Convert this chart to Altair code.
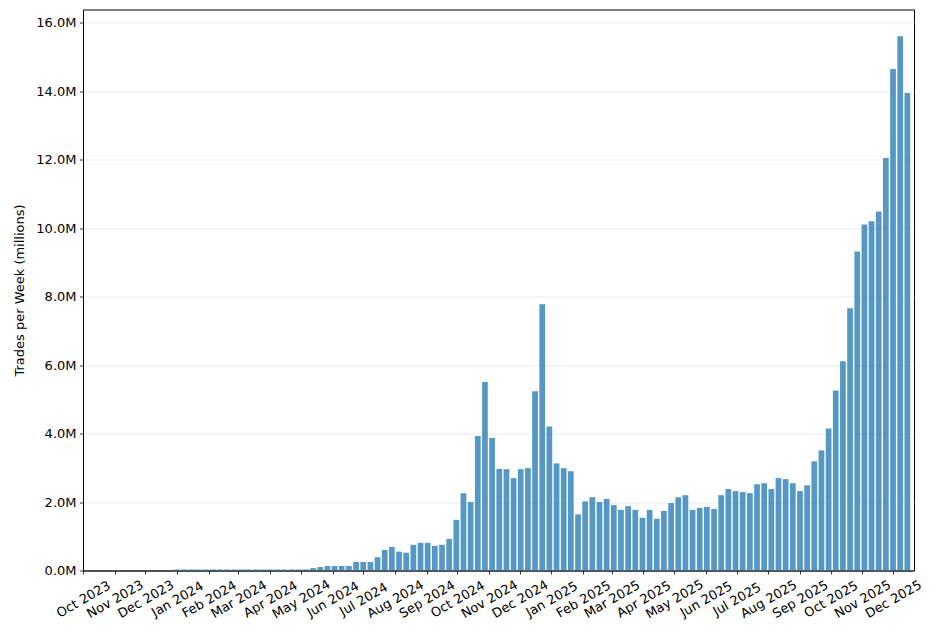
import altair as alt
import pandas as pd

# Weekly trade counts (millions), weeks starting Monday 2024-01-01
first_week = "2024-01-01"
trades_millions = [
    0.03, 0.03, 0.03, 0.03, 0.03, 0.03, 0.03, 0.03, 0.03, 0.03,
    0.03, 0.03, 0.03, 0.03, 0.03, 0.03, 0.03, 0.03, 0.03, 0.07,
    0.10, 0.13, 0.13, 0.13, 0.13, 0.25, 0.25, 0.25, 0.39, 0.60,
    0.69, 0.55, 0.52, 0.75, 0.81, 0.81, 0.72, 0.75, 0.92, 1.48,
    2.26, 2.00, 3.93, 5.51, 3.87, 2.97, 2.96, 2.70, 2.96, 2.99,
    5.24, 7.78, 4.21, 3.13, 2.99, 2.90, 1.64, 2.02, 2.14, 2.00,
    2.09, 1.91, 1.77, 1.88, 1.77, 1.54, 1.77, 1.51, 1.74, 1.97,
    2.14, 2.20, 1.77, 1.83, 1.86, 1.80, 2.20, 2.38, 2.32, 2.29,
    2.26, 2.52, 2.55, 2.38, 2.70, 2.67, 2.55, 2.32, 2.49, 3.19,
    3.51, 4.15, 5.26, 6.11, 7.66, 9.32, 10.11, 10.20, 10.49, 12.05,
    14.65, 15.61, 13.95,
]
tick_months = [(2023, m) for m in (10, 11, 12)] + \
              [(2024, m) for m in range(1, 13)] + \
              [(2025, m) for m in range(1, 13)]
y_ticks = [0, 2, 4, 6, 8, 10, 12, 14, 16]

weeks = pd.date_range(first_week, periods=len(trades_millions), freq="7D")
half = pd.Timedelta(days=2.8)
df = pd.DataFrame({
    "week": weeks,
    "start": weeks - half,
    "end": weeks + half,
    "trades": trades_millions,
})

font = "DejaVu Sans"

bars = alt.Chart(df).mark_bar(color="#1f77b4", opacity=0.76).encode(
    x=alt.X(
        "start:T",
        scale=alt.Scale(domain=[
            alt.DateTime(year=2023, month=10, date=1),
            alt.DateTime(year=2025, month=12, date=21, hours=12),
        ]),
        axis=alt.Axis(
            values=[alt.DateTime(year=y, month=m, date=1) for y, m in tick_months],
            format="%b %Y",
            formatType="time",
            labelAngle=-30,
            labelAlign="center",
            labelBaseline="middle",
            labelPadding=25,
            labelOverlap=False,
            labelFlush=False,
            title=None,
            grid=False,
        ),
    ),
    x2="end:T",
    y=alt.Y(
        "trades:Q",
        scale=alt.Scale(domain=[0, 16.39], nice=False),
        axis=alt.Axis(
            values=y_ticks,
            labelExpr="format(datum.value, '.1f') + 'M'",
            title="Trades per Week (millions)",
            grid=True,
            gridColor="#e6e6e6",
            gridWidth=0.8,
            titlePadding=9,
        ),
    ),
    y2=alt.datum(0),
)

chart = bars.properties(
    width=831,
    height=561,
    autosize=alt.AutoSizeParams(type="none"),
    padding={"left": 75, "top": 1.5, "right": 12, "bottom": 60},
).configure_view(
    stroke="black", strokeWidth=1
).configure_axis(
    labelFont=font, titleFont=font, labelFontSize=13, titleFontSize=13,
    titleFontWeight="normal", labelColor="black", titleColor="black",
    domainColor="black", tickColor="black", tickSize=3.5, tickWidth=0.8,
    domainWidth=1, labelPadding=3.5,
).configure_axisX(
    labelPadding=25,
)

chart.save("out.html", embed_options={"renderer": "svg", "actions": False})
